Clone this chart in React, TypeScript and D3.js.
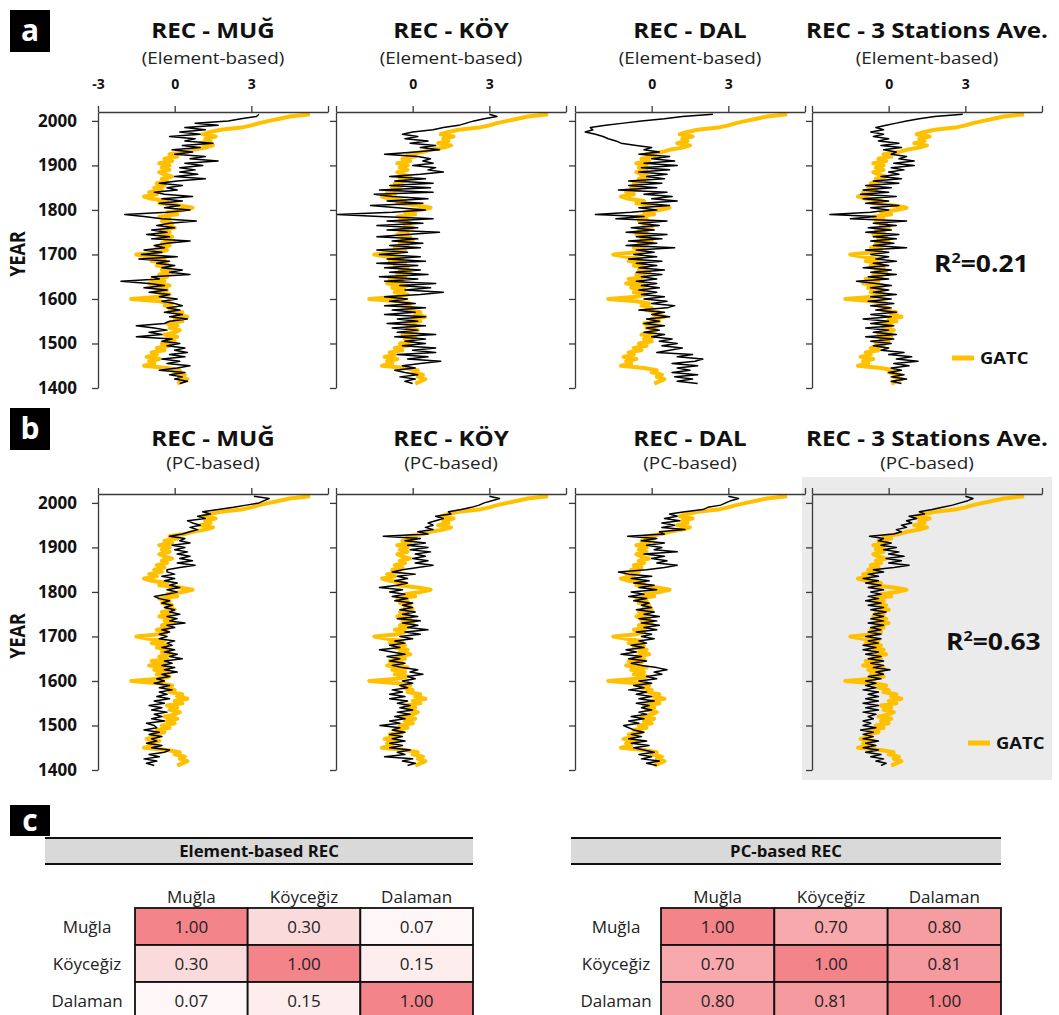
import { useEffect, useRef } from "react";
import * as d3 from "d3";

// 5-year steps, 1410-2015
const YEARS = d3.range(1410, 2016, 5);

const GATC = [
  0.1, 0.3, 0.5, 0.2, 0.4, 0.0, 0.2, -0.3,
  -1.2, -0.8, -1.0, -0.6, -1.1, -0.7, -0.9, -0.4, -0.7, -0.2,
  -0.5, 0.0, -0.3, 0.1, -0.4, 0.0, 0.2, -0.2, 0.1, -0.3,
  0.3, 0.0, 0.5, 0.1, 0.3, -0.2, 0.0, -0.4, -0.1, -0.6,
  -1.7, -0.6, -0.2, -0.7, -0.3, -0.8, -0.2, -1.0, -0.4, -0.9,
  -0.3, -0.6, -0.1, -0.5, -0.2, -0.7, -0.3, -0.9, -0.4, -1.0,
  -1.5, -0.6, -0.3, -0.7, -0.2, -0.5, 0.0, -0.4, -0.1, -0.6,
  -0.2, -0.5, 0.0, -0.3, -0.1, -0.5, -0.2, -0.6, 0.1, -0.3,
  0.3, 0.7, 0.2, -0.6, -0.3, -0.9, -1.2, -0.7, -1.0, -0.5,
  -0.8, -0.4, -0.7, -0.3, -0.5, -0.1, -0.4, -0.6, -0.2, -0.5,
  -0.2, -0.6, -0.1, -0.4, 0.1, -0.2, 0.4, 0.7, 1.2, 1.5,
  1.0, 1.4, 1.2, 1.6, 1.1, 1.4, 1.8, 2.6, 3.0, 3.3,
  3.7, 4.1, 4.5, 5.3,
];

const MUG_E = [
  0.2, 0.5, 0.0, 0.3, -0.2, 0.4, -0.6, 0.1,
  0.6, -0.3, 0.2, -0.5, 0.4, -0.2, 0.5, 0.0, 0.4, -0.3,
  0.2, -0.5, -0.1, -1.5, -0.5, -1.0, -0.3, -0.8, -1.5, -0.4,
  -0.2, 0.5, -0.2, 0.3, -0.4, 0.2, -0.3, 0.3, 0.0, -0.5,
  0.1, -0.6, -0.2, -1.0, -0.3, -1.2, -0.4, -1.0, -2.1, -0.6,
  -0.9, 0.6, -0.2, 0.3, -0.5, 0.0, -0.7, -0.2, -1.4, 0.1,
  -1.3, -0.5, -1.2, -0.4, -0.8, -0.3, 0.6, -0.9, -0.2, -1.1,
  -0.3, -0.9, 0.0, -0.7, -0.2, 0.85, -0.5, -1.2, -1.95, -0.3,
  0.6, -0.4, 0.2, -0.6, 0.3, -0.5, 0.7, -0.4, -0.8, 0.1,
  -0.3, 0.3, -0.6, 0.1, 1.2, 0.0, 0.9, 0.2, 0.8, 0.2,
  1.1, 0.4, 1.7, 0.6, 1.2, 0.0, 0.7, -0.1, 1.0, 0.3,
  1.5, 0.4, 0.8, -0.2, 1.0, 0.2, 1.2, 0.4, 1.7, 0.8,
  2.1, 2.6, 3.2, 3.3,
];

const KOY_E = [
  0.0, -0.3, 0.1, -0.5, 0.2, -0.3, -0.7, 0.1,
  -0.4, 0.3, 1.1, -0.2, 0.6, -0.6, 0.9, 0.0, 0.9, -0.4,
  0.5, -0.3, 0.5, -0.7, 0.9, -0.6, 0.2, -0.8, 0.5, -1.0,
  0.2, -0.6, 0.5, -1.1, 0.1, -0.8, 0.5, -1.1, 0.1, -0.9,
  -0.2, -1.1, 0.3, 1.2, -0.3, 0.7, -0.5, 0.9, -1.1, 0.2,
  -1.3, 0.6, -0.9, 0.3, -1.1, 0.2, -1.4, 0.5, -1.0, 0.3,
  -1.3, -0.2, -1.4, 0.3, -0.9, 0.4, -0.8, 0.2, -1.4, -0.2,
  1.05, -1.0, 0.2, -1.4, 0.4, -1.0, 0.8, -1.3, -2.95, -0.8,
  0.5, -0.6, -1.65, 0.4, -1.0, 0.6, -0.8, -1.5, 0.8, -1.3,
  0.7, -0.9, 0.8, -0.7, 0.5, -0.9, 0.3, 1.2, 0.6, 0.9,
  0.0, 0.8, 0.4, 0.7, 0.2, -1.1, 0.1, 1.05, 0.3, 0.9,
  -0.1, 0.6, -0.3, 0.2, -0.4, 0.0, 0.8, 1.2, 1.8, 2.1,
  2.4, 2.8, 3.3, 3.0,
];

const DAL_E = [
  1.8, 1.0, 1.6, 0.9, 1.8, 0.8, 1.5, 1.0,
  1.8, 0.8, 1.7, 2.0, 1.0, 1.6, 0.2, 0.7, 1.2, 0.4,
  1.0, 0.3, 0.8, 0.0, 0.5, -0.3, 0.3, -0.2, 0.5, -0.3,
  0.3, -0.2, 0.7, 0.0, 0.5, -0.5, 0.6, 0.9, 0.0, 0.6,
  -0.3, 0.5, -0.4, 0.2, -0.5, 0.3, -0.4, 0.2, -0.6, 0.2,
  -0.4, 0.4, -0.6, 0.5, -0.5, 0.2, -0.6, 0.4, -0.9, 0.2,
  -0.7, 0.1, -0.6, 0.9, -1.0, 0.2, -0.9, 0.4, -0.6, 0.6,
  -1.0, 0.1, -0.8, 0.3, -0.5, 0.6, -1.4, -0.3, -2.2, -0.8,
  0.2, -0.5, 0.7, -0.4, 1.0, 0.0, 0.8, -0.3, 0.6, -1.3,
  0.2, -0.9, 0.4, -0.9, 0.5, -0.2, 0.6, -0.5, 0.7, -0.4,
  1.0, -0.3, 0.9, 0.0, 0.7, -0.5, 0.3, -0.3, 0.0, -0.6,
  -1.2, -1.4, -1.7, -1.9, -2.2, -2.6, -2.3, -2.4, -1.8, -1.1,
  -0.4, 0.5, 1.2, 2.4,
];

const AVE_E = [
  0.5, 0.1, 0.7, 0.1, 0.6, 0.0, 0.5, 0.1,
  0.8, 0.2, 1.15, 0.3, 0.9, 0.0, 0.6, -0.3, 0.0, -0.6,
  0.1, -0.7, 0.2, -0.9, 0.3, -0.6, 0.0, -0.9, 0.2, -0.7,
  0.0, -1.0, 0.1, -0.7, 0.3, -0.5, 0.1, -0.7, 0.2, -0.8,
  0.1, -0.7, 0.3, -0.6, 0.0, -0.7, 0.1, -0.5, -1.26, 0.0,
  -0.8, 0.3, -0.7, 0.1, -1.0, 0.0, -0.6, 0.3, -0.5, 0.0,
  -0.7, 0.0, -0.9, 0.7, -0.6, 0.2, -0.7, 0.3, -0.6, 0.4,
  -0.9, 0.1, -0.8, 0.3, -0.6, 0.7, -1.5, -0.5, -2.3, -0.7,
  0.0, -0.7, 0.4, -0.9, 0.0, -1.0, 0.3, -1.1, 0.0, -1.0,
  0.1, -0.9, 0.4, -0.6, 0.5, -0.3, 0.4, 0.0, 0.6, 0.1,
  1.0, 0.2, 1.0, 0.4, 0.7, 0.1, 0.3, -0.2, 0.5, -0.3,
  0.4, -0.4, 0.0, -0.6, -0.2, -0.7, -0.2, -0.5, -0.1, 0.3,
  0.7, 1.2, 1.8, 2.9,
];

const MUG_PC = [
  -0.8, -1.1, -0.7, -1.2, -0.6, -1.0, -0.4, -0.2,
  -0.9, -0.5, -1.1, -0.7, -0.9, -0.5, -1.0, -0.6, -1.2, -0.7,
  -0.8, -1.1, -0.4, -0.9, -0.5, -0.8, -0.3, -0.9, -0.5, -1.0,
  -0.4, -0.8, -0.2, -0.7, -0.3, -0.6, -0.1, -0.6, -0.2, -0.8,
  -0.4, -0.7, -0.2, -0.5, 0.1, -0.4, 0.0, -0.5, -0.1, -0.4,
  0.3, -0.2, 0.1, -0.4, 0.0, -0.5, -0.1, -0.3, 0.0, -0.6,
  -0.3, -0.6, -0.2, -0.5, 0.0, -0.3, 0.4, -0.2, 0.1, -0.3,
  0.2, -0.2, 0.0, -0.4, -0.1, -0.5, -0.2, -0.6, -0.8, -0.3,
  0.1, -0.3, 0.2, -0.2, 0.1, -0.4, 0.0, -0.5, 0.0, -0.3,
  -0.3, 0.2, 0.8, 0.1, 0.7, 0.2, 0.6, 0.1, 0.5, 0.0,
  0.4, -0.1, 0.6, 0.2, 0.4, -0.2, 0.3, 0.6, 0.9, 0.6,
  1.0, 0.7, 0.5, 1.2, 0.9, 1.4, 1.1, 1.7, 2.3, 2.8,
  3.3, 3.5, 3.7, 3.1,
];

const KOY_PC = [
  -0.2, 0.1, -0.4, 0.0, -1.1, -0.3, -0.6, -0.1,
  -0.9, -0.4, -0.9, -0.3, -0.8, -0.4, -0.9, -0.3, -0.8, -0.5,
  -1.28, -0.5, -0.9, -0.3, -0.7, -0.1, -0.6, 0.0, -0.5, -0.1,
  -0.6, -0.2, -0.9, -0.3, -0.9, -0.4, -0.8, -0.2, -0.5, 0.0,
  -0.4, 0.1, -0.2, 0.4, -0.1, 0.2, -0.4, -0.8, -0.3, -0.9,
  -0.5, -1.0, -0.3, -0.8, -1.3, -0.5, -0.9, -0.3, -0.7, 0.0,
  -0.5, 0.3, -0.3, 0.6, -0.2, 0.2, -0.4, 0.3, -0.6, 0.2,
  -0.4, 0.1, -0.5, 0.0, -0.4, 0.0, -0.7, -0.2, -0.8, -0.3,
  -0.9, -0.4, -1.3, -0.6, -0.2, -0.7, -0.2, -0.6, 0.1, -0.8,
  -0.4, 0.2, 0.8, 0.1, 0.6, 0.0, 0.5, 0.1, 0.7, -0.1,
  0.6, -0.2, 0.5, -0.3, 0.3, -1.15, 0.6, 0.2, 0.8, 0.5,
  0.8, 0.6, 0.9, 1.2, 0.9, 1.5, 1.4, 1.9, 2.3, 2.6,
  2.8, 3.1, 3.4, 3.0,
];

const DAL_PC = [
  0.2, -0.2, 0.3, -0.4, 0.0, -0.5, 0.1, -0.3,
  -0.7, -0.1, -0.8, -0.2, -0.9, -0.4, -0.8, -0.3, -0.7, -0.9,
  -1.1, -0.5, -0.9, -0.3, -0.8, -0.2, -0.5, 0.0, -0.4, -0.1,
  -0.6, 0.1, -0.5, 0.0, -0.6, -0.2, -0.9, -0.3, -0.7, 0.0,
  -0.5, 0.2, -0.2, 0.4, 0.1, 0.6, 0.2, -0.4, -0.8, -0.2,
  -0.9, -0.4, -1.2, -0.6, -1.0, -0.3, -0.8, -0.2, -0.5, 0.1,
  -0.4, 0.0, -0.6, 0.2, -0.3, 0.3, -0.4, 0.2, -0.5, 0.3,
  -0.3, 0.1, -0.6, 0.0, -0.4, -0.1, -0.7, -0.2, -0.9, -0.3,
  -0.8, 0.2, -0.5, 0.1, -0.7, -0.1, -0.8, 0.0, -0.9, -1.3,
  -0.2, 0.5, 1.0, 0.2, 0.6, 0.0, 0.5, -0.3, 1.0, 0.1,
  0.4, -0.2, 0.5, -0.4, 0.2, -0.94, 0.5, 0.3, 1.3, 0.4,
  0.9, 0.4, 1.1, 0.5, 1.0, 0.7, 1.3, 2.0, 2.2, 2.7,
  2.9, 3.1, 3.4, 3.0,
];

const AVE_PC = [
  -0.3, -0.1, -0.5, -0.2, -0.7, -0.3, -0.9, -0.4,
  -1.0, -0.5, -0.9, -0.4, -1.0, -0.6, -1.0, -0.6, -1.1, -0.5,
  -1.0, -0.7, -1.0, -0.6, -0.8, -0.5, -1.0, -0.4, -0.9, -0.4,
  -1.0, -0.4, -0.9, -0.4, -0.8, -0.4, -1.0, -0.5, -0.9, -0.5,
  -0.9, -0.3, -0.8, -0.2, -0.5, 0.05, -0.6, -0.2, -0.7, -0.2,
  -0.8, -0.3, -0.9, -0.4, -1.0, -0.5, -1.0, -0.4, -0.8, -0.3,
  -0.9, -0.3, -0.8, -0.3, -0.7, -0.2, -0.8, -0.2, -0.7, -0.2,
  -0.6, -0.1, -0.7, -0.2, -0.8, -0.3, -0.9, -0.4, -0.8, -0.3,
  -0.7, -0.2, -0.8, -0.3, -0.9, -0.4, -1.0, -0.4, -0.8, -0.2,
  -0.6, 0.2, 0.8, 0.0, 0.5, -0.1, 0.6, 0.0, 0.4, -0.2,
  0.3, -0.3, 0.1, -0.4, -0.2, -0.75, 0.2, 0.5, 0.3, 0.7,
  0.5, 0.9, 0.7, 1.1, 0.8, 1.4, 1.2, 1.7, 2.1, 2.5,
  2.8, 3.1, 3.3, 3.0,
];

const REC_ELEMENT = [MUG_E, KOY_E, DAL_E, AVE_E];
const REC_PC = [MUG_PC, KOY_PC, DAL_PC, AVE_PC];
const PANEL_TITLES = ["REC - MUĞ", "REC - KÖY", "REC - DAL", "REC - 3 Stations Ave."];
const X_TICKS = [-3, 0, 3, 6];
const Y_TICKS = [1400, 1500, 1600, 1700, 1800, 1900, 2000];
const R2_VALUES = ["0.21", "0.63"];

const STATIONS = ["Muğla", "Köyceğiz", "Dalaman"];
const ELEMENT_CORR = [
  [1.0, 0.3, 0.07],
  [0.3, 1.0, 0.15],
  [0.07, 0.15, 1.0],
];
const PC_CORR = [
  [1.0, 0.7, 0.8],
  [0.7, 1.0, 0.81],
  [0.8, 0.81, 1.0],
];

export default function App() {
  const svgRef = useRef<SVGSVGElement>(null);

  useEffect(() => {
    const width = 1059;
    const height = 1015;
    const font = "'Open Sans', sans-serif";
    const gold = "#ffc000";
    const axisColor = "#3a3a3a";
    const colLeft = [98, 336, 575, 812];
    const plotWidth = 230;

    const svg = d3.select(svgRef.current)
      .attr("width", width)
      .attr("height", height)
      .attr("viewBox", [0, 0, width, height])
      .attr("font-family", font);
    svg.selectAll("*").remove();

    // the source figure's lettering is a little wider than Open Sans, so stretch it sideways
    const label = (x, y, sx, txt, size, weight = 400, anchor = "middle", fill = "#111") =>
      svg.append("text")
        .attr("transform", `translate(${x},${y}) scale(${sx},1)`)
        .attr("text-anchor", anchor)
        .attr("font-size", size)
        .attr("font-weight", weight)
        .attr("fill", fill)
        .text(txt);

    const letterBox = (letter, y, h) => {
      svg.append("rect")
        .attr("x", 10).attr("y", y)
        .attr("width", 40).attr("height", h)
        .attr("fill", "#000");
      svg.append("text")
        .attr("x", 30).attr("y", y + h / 2 + 10)
        .attr("text-anchor", "middle")
        .attr("font-size", 30).attr("font-weight", 700)
        .attr("fill", "#fff")
        .text(letter);
    };

    const rows = [
      {
        letter: "a", boxY: 10, top: 112, bottom: 388, titleY: 38, subY: 64,
        sub: "(Element-based)", recs: REC_ELEMENT, r2: R2_VALUES[0],
        r2X: 934, r2Y: 272, legX: 952, legY: 358, tickLabels: true,
      },
      {
        letter: "b", boxY: 408, top: 494, bottom: 770, titleY: 446, subY: 469,
        sub: "(PC-based)", recs: REC_PC, r2: R2_VALUES[1],
        r2X: 946, r2Y: 650, legX: 968, legY: 743, tickLabels: false,
      },
    ];

    rows.forEach((row, ri) => {
      const y = d3.scaleLinear().domain([1400, 2020]).range([row.bottom, row.top]);

      letterBox(row.letter, row.boxY, 42);

      if (ri === 1) {
        svg.append("rect")
          .attr("x", 802).attr("y", 477)
          .attr("width", 250).attr("height", 303)
          .attr("fill", "#ebebeb");
      }

      svg.append("text")
        .attr("transform", `translate(25,${(row.top + row.bottom) / 2 + 4}) scale(1.2,1) rotate(-90)`)
        .attr("text-anchor", "middle")
        .attr("font-size", 18).attr("font-weight", 700)
        .attr("fill", "#111")
        .text("YEAR");

      colLeft.forEach((x0, ci) => {
        const x = d3.scaleLinear().domain([-3, 6]).range([x0, x0 + plotWidth]);
        const cx = x0 + plotWidth / 2;

        label(cx, row.titleY, 1.15, PANEL_TITLES[ci], 21, 700);
        label(cx, row.subY, 1.18, row.sub, 16, 400, "middle", "#222");

        const line = d3.line()
          .x(d => x(d))
          .y((d, i) => y(YEARS[i]));

        svg.append("path")
          .datum(GATC)
          .attr("d", line)
          .attr("fill", "none")
          .attr("stroke", gold)
          .attr("stroke-width", 4)
          .attr("stroke-linejoin", "round");

        svg.append("path")
          .datum(row.recs[ci])
          .attr("d", line)
          .attr("fill", "none")
          .attr("stroke", "#000")
          .attr("stroke-width", 1.5)
          .attr("stroke-linejoin", "round");

        const xAxis = svg.append("g")
          .attr("transform", `translate(0,${row.top})`)
          .call(d3.axisTop(x)
            .tickValues(X_TICKS)
            .tickSize(6)
            .tickSizeOuter(0)
            .tickPadding(17)
            .tickFormat(d => {
              if (!row.tickLabels || d === 6) return "";
              if (d === -3 && ci !== 0) return "";
              return String(d);
            }));

        const yAxis = svg.append("g")
          .attr("transform", `translate(${x0},0)`)
          .call(d3.axisLeft(y)
            .tickValues(Y_TICKS)
            .tickSize(6)
            .tickSizeOuter(0)
            .tickPadding(15)
            .tickFormat(d => (ci === 0 ? String(d) : "")));

        [xAxis, yAxis].forEach(g => {
          g.attr("font-family", font);
          g.selectAll("path, line").attr("stroke", axisColor).attr("stroke-width", 1.3);
          g.selectAll("text").attr("font-weight", 700).attr("fill", "#111");
        });
        xAxis.selectAll("text").attr("font-size", 14);
        yAxis.selectAll("text").attr("font-size", 17);
      });

      // R² note
      const r2 = svg.append("text")
        .attr("transform", `translate(${row.r2X},${row.r2Y}) scale(1.15,1)`)
        .attr("font-size", 23).attr("font-weight", 700)
        .attr("fill", "#111");
      r2.append("tspan").text("R");
      r2.append("tspan").attr("font-size", 14).attr("dy", -9).text("2");
      r2.append("tspan").attr("dy", 9).text(`=${row.r2}`);

      // legend
      svg.append("line")
        .attr("x1", row.legX).attr("x2", row.legX + 22)
        .attr("y1", row.legY).attr("y2", row.legY)
        .attr("stroke", gold).attr("stroke-width", 5);
      label(row.legX + 28, row.legY + 6, 1.15, "GATC", 16, 700, "start");
    });

    // correlation tables
    letterBox("c", 805, 31);

    const color = d3.scaleLinear<string>().domain([0, 1]).range(["#ffffff", "#f3848a"]);
    const tables = [
      { title: "Element-based REC", data: ELEMENT_CORR, barX: 45, cellX: 135, right: 473, labelX: 87 },
      { title: "PC-based REC", data: PC_CORR, barX: 571, cellX: 661, right: 1001, labelX: 616 },
    ];

    tables.forEach(t => {
      const g = svg.append("g");
      g.append("rect")
        .attr("x", t.barX).attr("y", 838)
        .attr("width", t.right - t.barX).attr("height", 26)
        .attr("fill", "#d9d9d9");
      [838, 864].forEach(ly => {
        g.append("line")
          .attr("x1", t.barX).attr("x2", t.right)
          .attr("y1", ly).attr("y2", ly)
          .attr("stroke", "#111").attr("stroke-width", 2);
      });
      label((t.barX + t.right) / 2, 857, 1.05, t.title, 16, 700);

      const colBand = d3.scaleBand().domain(STATIONS).range([t.cellX, t.right]);
      const rowBand = d3.scaleBand().domain(STATIONS).range([908, 1019]);

      STATIONS.forEach(s => {
        label(colBand(s) + colBand.bandwidth() / 2, 903, 1, s, 17, 400, "middle", "#222");
      });

      STATIONS.forEach((rs, i) => {
        label(t.labelX, rowBand(rs) + rowBand.bandwidth() / 2 + 6, 1, rs, 17, 400, "middle", "#222");

        STATIONS.forEach((cs, j) => {
          const v = t.data[i][j];
          g.append("rect")
            .attr("x", colBand(cs)).attr("y", rowBand(rs))
            .attr("width", colBand.bandwidth()).attr("height", rowBand.bandwidth())
            .attr("fill", color(v))
            .attr("stroke", "#111").attr("stroke-width", 1.8);
        });
      });

      STATIONS.forEach((rs, i) => {
        STATIONS.forEach((cs, j) => {
          label(colBand(cs) + colBand.bandwidth() / 2, rowBand(rs) + rowBand.bandwidth() / 2 + 6,
            1, t.data[i][j].toFixed(2), 17, 400, "middle", "#222");
        });
      });
    });
  }, []);

  return (
    <svg ref={svgRef} style={{ position: "absolute", left: 0, top: 0 }}></svg>
  );
}
